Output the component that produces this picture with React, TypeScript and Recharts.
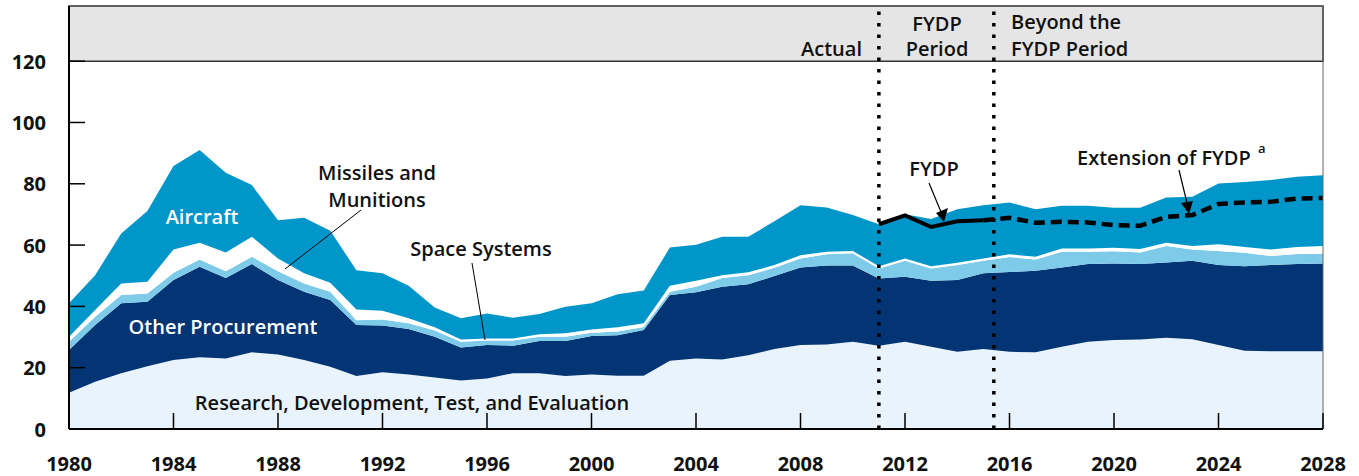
import React from "react";
import {
  ComposedChart,
  Area,
  Line,
  XAxis,
  YAxis,
  ReferenceArea,
  ReferenceLine,
} from "recharts";

const years = [
  1980, 1981, 1982, 1983, 1984, 1985, 1986, 1987, 1988, 1989,
  1990, 1991, 1992, 1993, 1994, 1995, 1996, 1997, 1998, 1999,
  2000, 2001, 2002, 2003, 2004, 2005, 2006, 2007, 2008, 2009,
  2010, 2011, 2012, 2013, 2014, 2015, 2016, 2017, 2018, 2019,
  2020, 2021, 2022, 2023, 2024, 2025, 2026, 2027, 2028,
];

const rdte = [
  11.8, 15.4, 18.2, 20.5, 22.5, 23.4, 23.0, 25.0, 24.3, 22.5,
  20.3, 17.3, 18.5, 17.8, 16.8, 15.8, 16.5, 18.2, 18.2, 17.3,
  17.8, 17.4, 17.4, 22.3, 23.0, 22.7, 24.1, 26.1, 27.4, 27.6,
  28.5, 27.2, 28.5, 26.8, 25.2, 26.1, 25.2, 25.0, 26.8, 28.5,
  29.0, 29.2, 29.8, 29.3, 27.4, 25.5, 25.4, 25.4, 25.4,
];

const otherProcurement = [
  14.0, 18.5, 22.8, 21.0, 26.1, 29.5, 26.3, 28.8, 24.3, 22.3,
  21.8, 16.6, 15.3, 14.8, 13.3, 10.8, 10.9, 9.0, 10.5, 11.4,
  12.5, 13.2, 14.9, 21.4, 21.6, 23.7, 23.1, 23.8, 25.3, 25.7,
  24.8, 21.9, 21.2, 21.6, 23.4, 24.7, 26.0, 26.6, 25.9, 25.3,
  25.0, 24.6, 24.5, 25.6, 26.1, 27.6, 28.1, 28.4, 28.6,
];

const spaceSystems = [
  2.7, 2.7, 2.7, 2.7, 2.4, 2.4, 2.2, 2.4, 2.9, 2.7,
  2.7, 1.6, 1.9, 1.9, 2.0, 1.9, 1.5, 1.7, 1.4, 1.4,
  1.1, 1.2, 1.0, 1.1, 1.8, 2.9, 3.0, 2.7, 2.9, 3.7,
  4.0, 3.3, 5.2, 4.0, 4.9, 4.1, 4.9, 3.7, 5.1, 4.0,
  4.0, 3.8, 5.4, 3.7, 4.6, 4.4, 2.9, 3.3, 3.1,
];

const missilesMunitions = [
  1.6, 2.2, 3.8, 3.8, 7.6, 5.5, 6.1, 6.5, 4.1, 3.3,
  2.9, 3.5, 2.9, 1.6, 1.1, 0.7, 0.6, 0.6, 0.8, 1.1,
  1.1, 1.4, 1.2, 1.9, 2.0, 0.9, 0.9, 0.9, 1.1, 0.8,
  0.8, 0.7, 0.7, 0.7, 0.7, 0.7, 0.9, 0.9, 1.1, 1.1,
  1.1, 1.1, 1.1, 1.1, 2.2, 1.9, 2.2, 2.3, 2.6,
];

const aircraft = [
  10.9, 11.4, 16.3, 23.1, 27.2, 30.2, 26.0, 16.9, 12.5, 18.1,
  17.0, 12.8, 12.2, 10.6, 6.4, 6.9, 8.2, 6.8, 6.6, 8.7,
  8.5, 10.8, 10.7, 12.5, 11.7, 12.5, 11.6, 14.3, 16.3, 14.5,
  11.7, 13.7, 14.5, 15.4, 17.5, 17.4, 16.9, 15.5, 13.9, 13.9,
  13.1, 13.5, 14.7, 16.1, 19.8, 21.2, 22.6, 22.9, 23.1,
];

const fydpYears = [2011, 2012, 2013, 2014, 2015];
const fydpValues = [66.8, 69.7, 65.9, 67.8, 68.1];

const extensionYears = [
  2015, 2016, 2017, 2018, 2019, 2020, 2021, 2022, 2023, 2024, 2025, 2026, 2027, 2028,
];
const extensionValues = [
  68.1, 68.9, 67.3, 67.6, 67.4, 66.5, 66.3, 69.2, 69.8, 73.4, 73.9, 74.1, 75.2, 75.4,
];

const xTicks = [1980, 1984, 1988, 1992, 1996, 2000, 2004, 2008, 2012, 2016, 2020, 2024, 2028];
const yTicks = [0, 20, 40, 60, 80, 100, 120];

const periodBoundaries = [2011, 2015.4];

const rows = years.map((year, i) => {
  const fi = fydpYears.indexOf(year);
  const ei = extensionYears.indexOf(year);
  return {
    year,
    rdte: rdte[i],
    other: otherProcurement[i],
    space: spaceSystems[i],
    missiles: missilesMunitions[i],
    aircraft: aircraft[i],
    fydp: fi >= 0 ? fydpValues[fi] : null,
    extension: ei >= 0 ? extensionValues[ei] : null,
  };
});

const FONT = "'Open Sans', 'DejaVu Sans', sans-serif";

const YTick = (props: any) => {
  const { x, y, payload } = props;
  return (
    <g>
      <line x1={x} x2={x + 16} y1={y} y2={y} stroke="#000" strokeWidth={1.5} />
      <text
        x={x - 23}
        y={y}
        textAnchor="end"
        dominantBaseline="central"
        fontFamily={FONT}
        fontWeight={700}
        fontSize={20}
        fill="#111"
      >
        {payload.value}
      </text>
    </g>
  );
};

const XTick = (props: any) => {
  const { x, y, payload } = props;
  return (
    <g>
      <line x1={x} x2={x} y1={y} y2={y - 16} stroke="#000" strokeWidth={1.5} />
      <text
        x={x}
        y={y + 34}
        textAnchor="middle"
        dominantBaseline="central"
        fontFamily={FONT}
        fontWeight={700}
        fontSize={20}
        fill="#111"
      >
        {payload.value}
      </text>
    </g>
  );
};

const Annotations = () => {
  const t = (
    x: number,
    y: number,
    s: string,
    anchor: "start" | "middle" | "end" = "middle",
    fill = "#111",
    size = 20
  ) => (
    <text
      x={x}
      y={y}
      textAnchor={anchor}
      dominantBaseline="central"
      fontFamily={FONT}
      fontWeight={650}
      fontSize={size}
      fill={fill}
    >
      {s}
    </text>
  );
  return (
    <svg
      width={1359}
      height={476}
      style={{ position: "absolute", left: 0, top: 0, pointerEvents: "none" }}
    >
      {t(862, 48, "Actual", "end")}
      {t(937, 23, "FYDP")}
      {t(937, 48, "Period")}
      {t(1011, 21, "Beyond the", "start")}
      {t(1011, 48, "FYDP Period", "start")}

      {t(202, 216, "Aircraft", "middle", "#fff")}
      {t(223, 326, "Other Procurement", "middle", "#fff")}
      {t(412, 402, "Research, Development, Test, and Evaluation")}
      {t(377, 172, "Missiles and")}
      {t(377, 199, "Munitions")}
      <line x1={361} y1={210} x2={285} y2={269} stroke="#000" strokeWidth={1} />
      {t(481, 248, "Space Systems")}
      <line x1={472} y1={263} x2={485} y2={340} stroke="#000" strokeWidth={1} />

      {t(934, 168, "FYDP")}
      <line x1={929} y1={183} x2={941} y2={212} stroke="#000" strokeWidth={1.2} />
      <polygon points="936,213 948,208 944,222" fill="#000" />

      {t(1077, 157, "Extension of FYDP", "start")}
      {t(1258, 148, "a", "start", "#111", 13)}
      <line x1={1179} y1={170} x2={1187} y2={203} stroke="#000" strokeWidth={1.2} />
      <polygon points="1181,203 1193,201 1189,214" fill="#000" />
    </svg>
  );
};

export default function App() {
  return (
    <div style={{ position: "absolute", left: 0, top: 0, width: 1359, height: 476, background: "#fff" }}>
      <ComposedChart
        width={1359}
        height={476}
        data={rows}
        margin={{ top: 6, right: 36, bottom: 0, left: 0 }}
      >
        <ReferenceArea
          x1={1980}
          x2={2028}
          y1={120}
          y2={138}
          fill="#e5e5e5"
          fillOpacity={1}
          stroke="#333"
          strokeWidth={1.5}
          ifOverflow="visible"
        />
        <Area dataKey="rdte" stackId="s" type="linear" fill="#e9f3fc" fillOpacity={1} stroke="none" isAnimationActive={false} />
        <Area dataKey="other" stackId="s" type="linear" fill="#033574" fillOpacity={1} stroke="none" isAnimationActive={false} />
        <Area dataKey="space" stackId="s" type="linear" fill="#7ecbe9" fillOpacity={1} stroke="none" isAnimationActive={false} />
        <Area dataKey="missiles" stackId="s" type="linear" fill="#ffffff" fillOpacity={1} stroke="none" isAnimationActive={false} />
        <Area dataKey="aircraft" stackId="s" type="linear" fill="#0096c9" fillOpacity={1} stroke="none" isAnimationActive={false} />
        <Line dataKey="fydp" type="linear" stroke="#000" strokeWidth={4} dot={false} connectNulls={false} isAnimationActive={false} />
        <Line dataKey="extension" type="linear" stroke="#000" strokeWidth={4.5} strokeDasharray="11 6" dot={false} connectNulls={false} isAnimationActive={false} />
        <XAxis
          dataKey="year"
          type="number"
          domain={[1980, 2028]}
          ticks={xTicks}
          interval={0}
          height={47}
          tickSize={0}
          tickMargin={0}
          tickLine={false}
          axisLine={{ stroke: "#000", strokeWidth: 2 }}
          tick={<XTick />}
          allowDataOverflow
        />
        <YAxis
          type="number"
          domain={[0, 138]}
          ticks={yTicks}
          interval={0}
          width={69}
          tickSize={0}
          tickMargin={0}
          tickLine={false}
          axisLine={{ stroke: "#000", strokeWidth: 2 }}
          tick={<YTick />}
          allowDataOverflow
        />
        <ReferenceLine x={2028} stroke="#666" strokeWidth={1} />
        {periodBoundaries.map((b) => (
          <ReferenceLine key={b} x={b} stroke="#000" strokeWidth={3.5} strokeDasharray="3.5 8" />
        ))}
      </ComposedChart>
      <Annotations />
    </div>
  );
}
